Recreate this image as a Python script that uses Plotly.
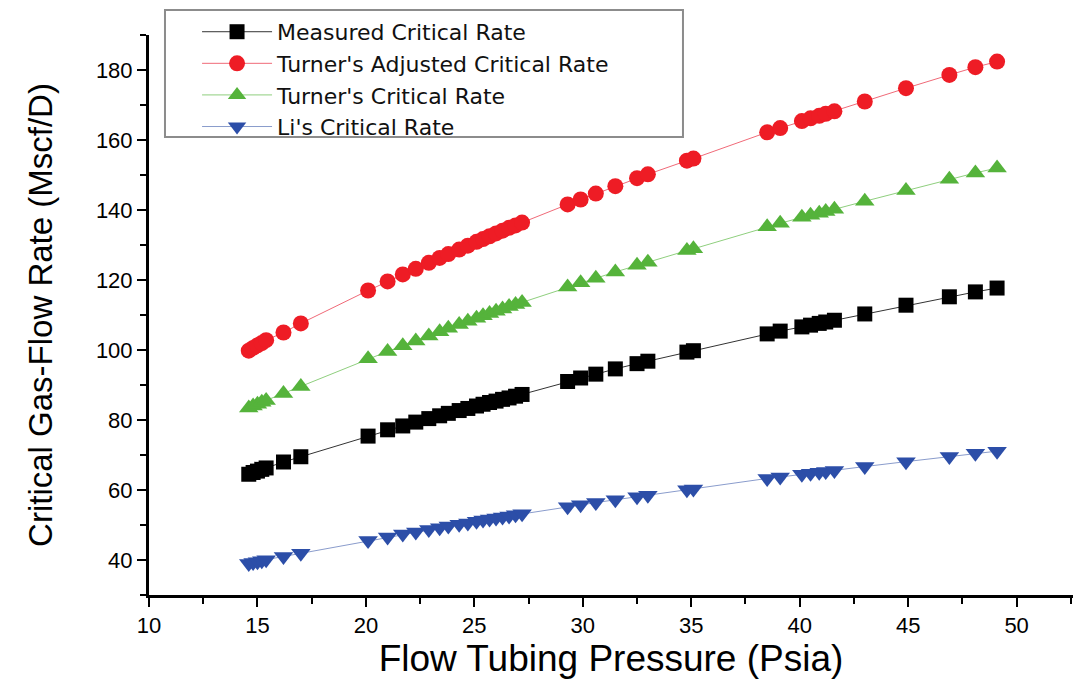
import plotly.graph_objects as go

# Flow tubing pressure (psia) of each observation
pressure = [14.6, 14.8, 15.0, 15.2, 15.4, 16.2, 17.0, 20.1, 21.0, 21.7, 22.3, 22.9,
            23.4, 23.8, 24.3, 24.7, 25.1, 25.4, 25.7, 26.0, 26.3, 26.6, 26.9, 27.2,
            29.3, 29.9, 30.6, 31.5, 32.5, 33.0, 34.8, 35.1, 38.5, 39.1, 40.1, 40.5,
            40.9, 41.2, 41.6, 43.0, 44.9, 46.9, 48.1, 49.1]

# Critical gas-flow rate (Mscf/D)
measured = [64.5, 65.0, 65.4, 65.9, 66.3, 68.0, 69.5, 75.4, 77.2, 78.3, 79.4, 80.4,
            81.2, 81.9, 82.7, 83.3, 84.0, 84.5, 85.0, 85.4, 85.9, 86.3, 86.8, 87.3,
            91.0, 92.0, 93.1, 94.6, 96.1, 96.8, 99.4, 99.8, 104.6, 105.4, 106.6, 107.1,
            107.6, 108.0, 108.5, 110.3, 112.8, 115.2, 116.6, 117.7]

turner_adjusted = [99.8, 100.6, 101.3, 102.0, 102.8, 105.0, 107.6, 117.0, 119.6, 121.6, 123.2, 124.9,
                   126.3, 127.4, 128.7, 129.8, 130.9, 131.7, 132.5, 133.3, 134.1, 134.9, 135.6, 136.4,
                   141.6, 143.0, 144.7, 146.8, 149.1, 150.2, 154.1, 154.7, 162.2, 163.4, 165.4, 166.2,
                   166.9, 167.5, 168.2, 171.0, 174.8, 178.6, 180.8, 182.4]

turner = [83.4, 84.0, 84.5, 85.1, 85.6, 87.6, 89.6, 97.5, 99.6, 101.2, 102.6, 104.0,
          105.2, 106.2, 107.3, 108.2, 109.1, 109.8, 110.4, 111.1, 111.7, 112.4, 113.0, 113.6,
          118.0, 119.2, 120.5, 122.3, 124.2, 125.1, 128.4, 128.9, 135.2, 136.2, 137.9, 138.5,
          139.1, 139.6, 140.2, 142.5, 145.6, 148.8, 150.6, 152.0]

li = [39.0, 39.3, 39.5, 39.8, 40.1, 41.0, 41.9, 45.6, 46.6, 47.4, 48.0, 48.7,
      49.2, 49.7, 50.2, 50.6, 51.1, 51.4, 51.7, 52.0, 52.3, 52.6, 52.9, 53.2,
      55.2, 55.8, 56.4, 57.2, 58.1, 58.5, 60.1, 60.3, 63.3, 63.7, 64.5, 64.8,
      65.1, 65.3, 65.6, 66.7, 68.1, 69.6, 70.5, 71.1]

series = [
    ("Measured Critical Rate", measured, "square", 15, "#000000", "#333333"),
    ("Turner's Adjusted Critical Rate", turner_adjusted, "circle", 16, "#ee1c25", "#f06a78"),
    ("Turner's Critical Rate", turner, "triangle-up", 17, "#55b33b", "#8fcf7e"),
    ("Li's Critical Rate", li, "triangle-down", 17, "#2c4ea8", "#8a9ccc"),
]

fig = go.Figure()
for name, values, symbol, size, color, line_color in series:
    fig.add_trace(go.Scatter(
        x=pressure, y=values, name=name, mode="lines+markers",
        line=dict(color=line_color, width=1),
        marker=dict(symbol=symbol, size=size, color=color, line=dict(width=0)),
    ))

axis_font = dict(family="Liberation Sans, Arial, sans-serif", size=22, color="#000000")
xtitle_font = dict(family="Liberation Sans, Arial, sans-serif", size=37, color="#000000")
ytitle_font = dict(family="Liberation Sans, Arial, sans-serif", size=33, color="#000000")

# Legend frame
fig.add_shape(type="rect", xref="paper", yref="paper",
              x0=0.0173, x1=0.5779, y0=0.8179, y1=1.0446,
              line=dict(color="#8c8c8c", width=2), fillcolor="rgba(0,0,0,0)", layer="above")

fig.update_layout(
    width=1075, height=686,
    margin=dict(l=149, r=2, t=35, b=91),
    paper_bgcolor="white", plot_bgcolor="white",
    showlegend=True,
    legend=dict(
        x=0.052, y=1.043, xanchor="left", yanchor="top",
        bgcolor="rgba(0,0,0,0)", borderwidth=0,
        font=dict(family="DejaVu Sans, sans-serif", size=22, color="#111111"),
        itemwidth=70,
    ),
    xaxis=dict(
        range=[10, 52.6], dtick=5, tick0=10,
        showgrid=False, zeroline=False,
        showline=True, linecolor="black", linewidth=3,
        ticks="outside", ticklen=9, tickwidth=2, tickcolor="black",
        minor=dict(dtick=2.5, ticks="outside", ticklen=6, tickwidth=2, tickcolor="black"),
        tickfont=axis_font,
        title=dict(text="Flow Tubing Pressure (Psia)", font=xtitle_font, standoff=8),
    ),
    yaxis=dict(
        range=[30, 190], dtick=20, tick0=0,
        showgrid=False, zeroline=False,
        showline=True, linecolor="black", linewidth=3,
        ticks="outside", ticklen=9, tickwidth=2, tickcolor="black",
        minor=dict(dtick=10, ticks="outside", ticklen=6, tickwidth=2, tickcolor="black"),
        tickfont=axis_font,
        title=dict(text="Critical Gas-Flow Rate (Mscf/D)", font=ytitle_font, standoff=34),
    ),
)

fig.write_html("out.html")
